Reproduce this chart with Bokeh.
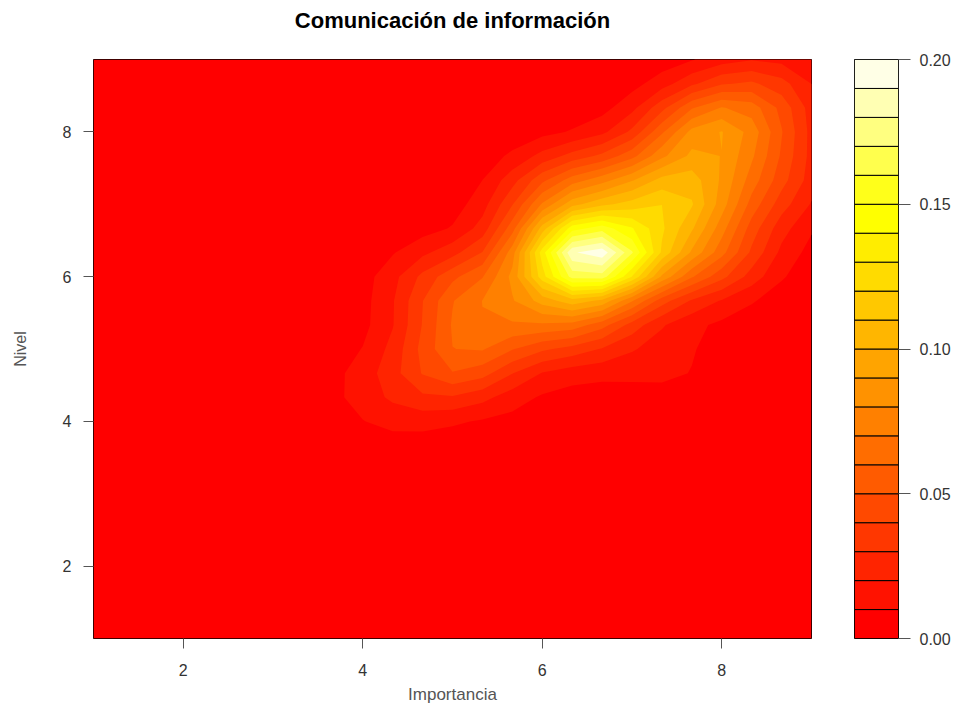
import numpy as np
from bokeh.plotting import figure
from bokeh.layouts import row
from bokeh.models import FixedTicker, NumeralTickFormatter, LinearAxis
from bokeh.embed import file_html
from bokeh.resources import INLINE

obs_x = [4.33, 6.00, 4.33, 5.00, 7.33, 5.00, 5.33, 5.33, 6.00, 6.33, 6.67, 5.00, 5.33,
         5.67, 6.00, 5.00, 6.00, 6.33, 6.67, 7.00, 7.67, 8.00, 6.00, 6.33, 6.67, 7.00,
         7.67, 8.00, 6.00, 6.33, 7.33, 7.67, 8.67, 6.33, 6.67, 7.00, 7.33, 7.67, 8.00,
         8.33, 8.67, 7.67, 8.67, 7.67, 8.00, 8.33, 8.67, 7.67, 8.33, 8.67, 8.33, 8.67,
         7.67, 4.00, 4.67]
obs_y = [4.00, 4.00, 4.33, 4.67, 4.67, 5.00, 5.00, 5.33, 5.33, 5.33, 5.33, 5.67, 5.67,
         5.67, 5.67, 6.00, 6.00, 6.00, 6.00, 6.00, 6.00, 6.00, 6.33, 6.33, 6.33, 6.33,
         6.33, 6.33, 7.00, 7.00, 7.00, 7.00, 7.00, 7.33, 7.33, 7.33, 7.33, 7.33, 7.33,
         7.33, 7.33, 7.67, 7.67, 8.00, 8.00, 8.00, 8.00, 8.33, 8.33, 8.33, 8.67, 8.67,
         5.00, 4.67, 6.00]
obs_n = [1, 1, 2, 6, 2, 4, 3, 3, 2, 6, 2, 4, 3,
         1, 3, 4, 1, 4, 5, 3, 1, 1, 2, 19, 17, 5,
         6, 5, 4, 4, 10, 8, 2, 5, 3, 1, 4, 3, 1,
         3, 2, 1, 2, 8, 8, 1, 1, 1, 3, 1, 3, 2,
         1, 1, 1]

x_ticks = [2, 4, 6, 8]
y_ticks = [2, 4, 6, 8]
key_ticks = [0.00, 0.05, 0.10, 0.15, 0.20]
levels = [round(0.01 * i, 2) for i in range(21)]
colors = ["#FF0000", "#FF1200", "#FF2400", "#FF3700", "#FF4900", "#FF5B00", "#FF6D00",
          "#FF8000", "#FF9200", "#FFA400", "#FFB600", "#FFC800", "#FFDB00", "#FFED00",
          "#FFFF00", "#FFFF1A", "#FFFF4D", "#FFFF80", "#FFFFB3", "#FFFFE6"]

# 2-D kernel density estimate on a 25 x 25 grid (as kde2d does)
bw_x, bw_y = 0.5, 0.4
ox = np.array(obs_x); oy = np.array(obs_y); on = np.array(obs_n, dtype=float)
gx = np.linspace(1, 9, 25)
gy = np.linspace(1, 9, 25)
kx = np.exp(-0.5 * ((gx[:, None] - ox[None, :]) / bw_x) ** 2)
ky = np.exp(-0.5 * ((gy[:, None] - oy[None, :]) / bw_y) ** 2)
Z = (ky * on[None, :]) @ kx.T / (on.sum() * 2 * np.pi * bw_x * bw_y)

FONT = "Liberation Sans"

p = figure(width=830, height=712, x_range=(1, 9), y_range=(1, 9), output_backend="svg",
           toolbar_location=None, min_border_left=93, min_border_right=19,
           min_border_top=59, min_border_bottom=74)
# stacked filled contours (each band covers everything above its lower level: no seams)
for k in range(len(colors)):
    p.contour(gx, gy, Z, levels=[levels[k], 10.0], fill_color=colors[k], line_color=None)
p.background_fill_color = "#FF0000"
p.outline_line_color = "black"
p.xgrid.visible = False
p.ygrid.visible = False
p.xaxis.ticker = FixedTicker(ticks=x_ticks)
p.yaxis.ticker = FixedTicker(ticks=y_ticks)
p.axis.axis_line_color = None
p.axis.major_tick_line_color = "#555555"
p.axis.major_tick_out = 10
p.axis.major_tick_in = 0
p.axis.minor_tick_line_color = None
p.axis.major_label_text_font = FONT
p.axis.major_label_text_font_size = "16px"
p.axis.major_label_text_color = "#333333"
p.xaxis.major_label_standoff = 15
p.yaxis.major_label_standoff = 12
p.xaxis.axis_label = "Importancia"
p.xaxis.axis_label_standoff = 6
p.yaxis.axis_label = "Nivel"
p.yaxis.axis_label_standoff = 31
for ax in (p.xaxis, p.yaxis):
    ax.axis_label_text_font = FONT
    ax.axis_label_text_font_style = "normal"
    ax.axis_label_text_color = "#555555"
p.xaxis.axis_label_text_font_size = "17px"
p.yaxis.axis_label_text_font_size = "16px"

# title, drawn as the label of an empty axis above the frame
top = LinearAxis(ticker=FixedTicker(ticks=[]), axis_line_color=None, major_tick_line_color=None,
                 minor_tick_line_color=None, major_label_text_font_size="0px",
                 axis_label="Comunicación de información", axis_label_standoff=27,
                 axis_label_text_font=FONT, axis_label_text_font_size="22px",
                 axis_label_text_font_style="bold", axis_label_text_color="black")
p.add_layout(top, "above")

c = figure(width=123, height=712, x_range=(0, 1), y_range=(0, 0.2), output_backend="svg",
           toolbar_location=None, min_border_left=24, min_border_right=55,
           min_border_top=59, min_border_bottom=74,
           x_axis_location=None, y_axis_location="right")
c.quad(left=0, right=1, bottom=levels[:-1], top=levels[1:], fill_color=colors,
       line_color="black", line_width=1)
c.outline_line_color = "black"
c.xgrid.visible = False
c.ygrid.visible = False
c.yaxis.ticker = FixedTicker(ticks=key_ticks)
c.yaxis.formatter = NumeralTickFormatter(format="0.00")
c.yaxis.axis_line_color = None
c.yaxis.major_tick_line_color = "#555555"
c.yaxis.major_tick_out = 12
c.yaxis.major_tick_in = 0
c.yaxis.minor_tick_line_color = None
c.yaxis.major_label_text_font = FONT
c.yaxis.major_label_text_font_size = "16px"
c.yaxis.major_label_text_color = "#333333"
c.yaxis.major_label_standoff = 9

out = row(p, c)
open("out.html", "w").write(file_html(out, INLINE))
